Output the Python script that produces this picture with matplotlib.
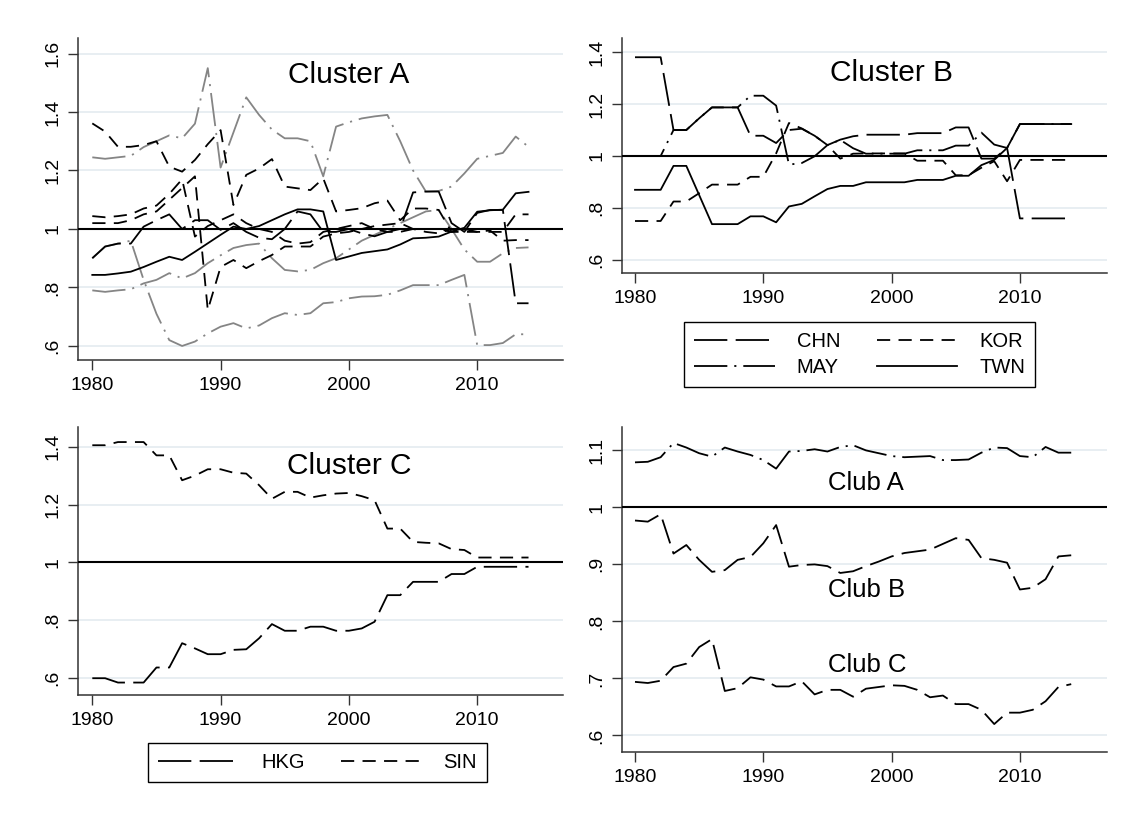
import matplotlib
matplotlib.use("Agg")
import matplotlib.pyplot as plt

plt.rcParams['font.family'] = ['Liberation Sans', 'DejaVu Sans']
plt.rcParams['lines.scale_dashes'] = False

years = list(range(1980, 2015))

# Cluster A (relative transition paths)
a_g1 = [1.245, 1.24, 1.245, 1.25, 1.28, 1.30, 1.32, 1.31, 1.36, 1.55, 1.21, 1.33, 1.45, 1.39, 1.34, 1.31, 1.31, 1.30,
        1.18, 1.35, 1.365, 1.378, 1.385, 1.39, 1.30, 1.20, 1.128, 1.13, 1.145, 1.19, 1.24, 1.25, 1.26, 1.316, 1.281]
a_g2 = [0.90, 0.94, 0.95, 0.96, 0.826, 0.71, 0.62, 0.60, 0.615, 0.643, 0.666, 0.678, 0.66, 0.67, 0.695, 0.712, 0.706,
        0.712, 0.746, 0.75, 0.763, 0.769, 0.77, 0.775, 0.79, 0.808, 0.808, 0.808, 0.826, 0.843, 0.603, 0.603, 0.61,
        0.64, 0.64]
a_g3 = [0.79, 0.785, 0.79, 0.794, 0.814, 0.826, 0.849, 0.831, 0.849, 0.883, 0.91, 0.935, 0.945, 0.95, 0.90, 0.86,
        0.855, 0.86, 0.883, 0.90, 0.93, 0.96, 0.98, 1.0, 1.02, 1.04, 1.06, 1.065, 1.0, 0.93, 0.888, 0.888, 0.917,
        0.935, 0.937]
a_sd1 = [1.361, 1.333, 1.281, 1.281, 1.287, 1.30, 1.213, 1.196, 1.236, 1.29, 1.338, 1.082, 1.185, 1.207, 1.239, 1.145,
         1.139, 1.133, 1.173, 1.06, 1.065, 1.071, 1.088, 1.097, 1.03, 1.07, 1.07, 1.065, 0.99, 0.99, 0.99, 0.99, 0.99,
         1.05, 1.05]
a_sd2 = [1.044, 1.04, 1.044, 1.05, 1.07, 1.08, 1.12, 1.17, 0.974, 1.01, 1.03, 1.05, 1.02, 1.0, 0.99, 0.96, 0.95, 0.955,
         0.99, 1.0, 1.01, 1.02, 1.0, 0.99, 0.99, 1.0, 1.0, 1.0, 0.99, 1.0, 0.99, 0.995, 0.96, 0.962, 0.962]
a_sd3 = [1.02, 1.02, 1.02, 1.03, 1.05, 1.06, 1.10, 1.14, 1.18, 0.723, 0.87, 0.894, 0.866, 0.89, 0.911, 0.94, 0.94, 0.94,
         0.974, 0.985, 0.99, 1.0, 1.01, 1.015, 1.02, 1.0, 0.99, 0.985, 1.0, 1.0, 1.0, 1.0, 1.0, 1.0, 1.0]
a_ld1 = [0.90, 0.94, 0.95, 0.95, 1.008, 1.03, 1.05, 1.0, 1.03, 1.03, 0.997, 1.02, 0.99, 0.97, 0.965, 1.0, 1.06, 1.05,
         0.99, 0.99, 1.0, 0.985, 0.975, 0.99, 1.0, 1.125, 1.128, 1.128, 1.02, 0.99, 1.055, 1.065, 1.065, 0.746, 0.746]
a_s1 = [0.843, 0.843, 0.848, 0.854, 0.87, 0.888, 0.905, 0.894, 0.922, 0.951, 0.98, 1.008, 1.0, 1.01, 1.03, 1.05, 1.067,
        1.067, 1.06, 0.894, 0.906, 0.918, 0.924, 0.93, 0.947, 0.968, 0.97, 0.974, 0.991, 1.004, 1.059, 1.064, 1.066,
        1.122, 1.127]

# Cluster B
chn = [1.38, 1.38, 1.38, 1.10, 1.10, 1.145, 1.187, 1.187, 1.187, 1.078, 1.078, 1.05, 1.10, 1.105, 1.078, 1.042,
       1.063, 1.076, 1.082, 1.082, 1.082, 1.082, 1.088, 1.088, 1.088, 1.11, 1.11, 0.99, 0.99, 1.031, 0.76, 0.76, 0.76,
       0.76, 0.76]
kor = [0.75, 0.75, 0.75, 0.825, 0.825, 0.857, 0.89, 0.89, 0.89, 0.92, 0.92, 1.01, 1.127, 1.106, 1.078, 1.042,
       0.99, 1.009, 1.01, 1.01, 1.01, 1.01, 0.982, 0.982, 0.982, 0.926, 0.926, 0.955, 0.98, 0.903, 0.985, 0.985, 0.985,
       0.985, 0.985]
may = [1.0, 1.0, 1.0, 1.10, 1.10, 1.145, 1.187, 1.187, 1.187, 1.232, 1.232, 1.194, 0.967, 0.973, 0.999, 1.042,
       1.062, 1.03, 1.009, 1.009, 1.009, 1.009, 1.022, 1.022, 1.022, 1.04, 1.04, 1.09, 1.044, 1.031, 1.123, 1.123,
       1.123, 1.123, 1.123]
twn = [0.87, 0.87, 0.87, 0.962, 0.962, 0.85, 0.738, 0.738, 0.738, 0.768, 0.768, 0.745, 0.806, 0.816, 0.845, 0.873,
       0.885, 0.885, 0.899, 0.899, 0.899, 0.899, 0.908, 0.908, 0.908, 0.924, 0.924, 0.965, 0.985, 1.031, 1.123, 1.123,
       1.123, 1.123, 1.123]

# Cluster C
sin = [1.405, 1.405, 1.416, 1.416, 1.416, 1.37, 1.37, 1.284, 1.30, 1.322, 1.322, 1.31, 1.307, 1.267, 1.22, 1.244,
       1.244, 1.224, 1.232, 1.238, 1.24, 1.229, 1.215, 1.117, 1.117, 1.071, 1.068, 1.066, 1.046, 1.043, 1.017, 1.017,
       1.017, 1.017, 1.017]
hkg = [0.60, 0.60, 0.585, 0.585, 0.585, 0.637, 0.637, 0.721, 0.703, 0.683, 0.683, 0.698, 0.70, 0.738, 0.787, 0.764,
       0.764, 0.778, 0.778, 0.764, 0.764, 0.772, 0.795, 0.887, 0.887, 0.933, 0.933, 0.933, 0.96, 0.96, 0.985, 0.985,
       0.985, 0.985, 0.985]

# Clubs
club_a = [1.079, 1.08, 1.088, 1.113, 1.105, 1.095, 1.089, 1.105, 1.098, 1.092, 1.083, 1.068, 1.098, 1.099, 1.102,
          1.098, 1.106, 1.109, 1.10, 1.095, 1.09, 1.088, 1.089, 1.09, 1.083, 1.083, 1.084, 1.096, 1.105, 1.104, 1.09,
          1.088, 1.106, 1.096, 1.096]
club_b = [0.977, 0.975, 0.988, 0.919, 0.934, 0.908, 0.887, 0.89, 0.908, 0.913, 0.937, 0.969, 0.896, 0.899, 0.90,
          0.897, 0.885, 0.888, 0.897, 0.905, 0.914, 0.92, 0.923, 0.926, 0.936, 0.946, 0.943, 0.911, 0.908, 0.903,
          0.856, 0.859, 0.874, 0.914, 0.916]
club_c = [0.694, 0.692, 0.696, 0.72, 0.726, 0.755, 0.769, 0.678, 0.683, 0.702, 0.698, 0.686, 0.686, 0.695, 0.672,
          0.68, 0.68, 0.668, 0.682, 0.685, 0.688, 0.687, 0.68, 0.667, 0.67, 0.655, 0.655, 0.645, 0.62, 0.64, 0.64,
          0.645, 0.66, 0.685, 0.69]

LONG = (0, (24, 6))
DASH = (0, (9.5, 6))
DASHDOT = (0, (24, 5, 1.5, 5))
GRAY = '#858585'
LW = 1.3

W, H = 1123, 817
fig = plt.figure(figsize=(W / 100, H / 100), dpi=100)
fig.patch.set_facecolor('white')


def make_ax(l, t, r, b, x0px, ylim, ticks, labels):
    ax = fig.add_axes([l / W, 1 - b / H, (r - l) / W, (b - t) / H])
    xmin = 1980 - (x0px - l) / 12.83
    ax.set_xlim(xmin, xmin + (r - l) / 12.83)
    ax.set_ylim(*ylim)
    ax.set_xticks([1980, 1990, 2000, 2010])
    ax.set_yticks(ticks)
    ax.set_yticklabels(labels, rotation=90, va='center')
    ax.tick_params(axis='both', labelsize=14, length=7, width=1.0, color='#333333', pad=5)
    for s in ['top', 'right']:
        ax.spines[s].set_visible(False)
    for s in ['left', 'bottom']:
        ax.spines[s].set_color('#333333')
        ax.spines[s].set_linewidth(1.1)
    ax.yaxis.grid(True, color='#e6edf1', lw=1.3)
    ax.set_axisbelow(True)
    ax.axhline(1, color='black', lw=1.5, zorder=3)
    return ax


# Cluster A
ax = make_ax(78, 38, 563, 360, 92.3, (0.552, 1.653), [0.6, 0.8, 1.0, 1.2, 1.4, 1.6],
             ['.6', '.8', '1', '1.2', '1.4', '1.6'])
ax.plot(years, a_g1, color=GRAY, ls=DASHDOT, lw=LW)
ax.plot(years, a_g2, color=GRAY, ls=DASHDOT, lw=LW)
ax.plot(years, a_g3, color=GRAY, ls=DASHDOT, lw=LW)
ax.plot(years, a_sd1, color='black', ls=DASH, lw=LW)
ax.plot(years, a_sd2, color='black', ls=DASH, lw=LW)
ax.plot(years, a_sd3, color='black', ls=DASH, lw=LW)
ax.plot(years, a_ld1, color='black', ls=LONG, lw=LW)
ax.plot(years, a_s1, color='black', ls='-', lw=LW)
ax.text(2000, 1.50, 'Cluster A', fontsize=21.5, ha='center', va='baseline')

# Cluster B
ax = make_ax(622, 38, 1107, 273, 635, (0.55, 1.454), [0.6, 0.8, 1.0, 1.2, 1.4],
             ['.6', '.8', '1', '1.2', '1.4'])
h1, = ax.plot(years, chn, color='black', ls=LONG, lw=LW)
h2, = ax.plot(years, kor, color='black', ls=DASH, lw=LW)
h3, = ax.plot(years, may, color='black', ls=DASHDOT, lw=LW)
h4, = ax.plot(years, twn, color='black', ls='-', lw=LW)
ax.text(2000, 1.287, 'Cluster B', fontsize=21.5, ha='center', va='baseline')
leg = ax.legend([h1, h3, h2, h4], ['CHN', 'MAY', 'KOR', 'TWN'], ncol=2, loc='upper left',
                bbox_to_anchor=(684 / W, 1 - 321.7 / H), bbox_transform=fig.transFigure,
                fontsize=14.5, handlelength=4, handletextpad=1.1, columnspacing=1.8,
                borderaxespad=0, borderpad=0.5, labelspacing=0.35,
                fancybox=False, edgecolor='black', framealpha=1)
leg.get_frame().set_linewidth(1.0)

# Cluster C
ax = make_ax(78, 427, 563, 695, 92.3, (0.542, 1.468), [0.6, 0.8, 1.0, 1.2, 1.4],
             ['.6', '.8', '1', '1.2', '1.4'])
h1, = ax.plot(years, hkg, color='black', ls=LONG, lw=LW)
h2, = ax.plot(years, sin, color='black', ls=DASH, lw=LW)
ax.text(2000, 1.3045, 'Cluster C', fontsize=21.5, ha='center', va='baseline')
leg = ax.legend([h1, h2], ['HKG', 'SIN'], ncol=2, loc='upper left',
                bbox_to_anchor=(148.3 / W, 1 - 743.3 / H), bbox_transform=fig.transFigure,
                fontsize=14.5, handlelength=4, handletextpad=1.1, columnspacing=1.8,
                borderaxespad=0, borderpad=0.5,
                fancybox=False, edgecolor='black', framealpha=1)
leg.get_frame().set_linewidth(1.0)

# Clubs
ax = make_ax(622, 427, 1107, 752, 635, (0.571, 1.141), [0.6, 0.7, 0.8, 0.9, 1.0, 1.1],
             ['.6', '.7', '.8', '.9', '1', '1.1'])
ax.plot(years, club_a, color='black', ls=DASHDOT, lw=LW)
ax.plot(years, club_b, color='black', ls=(0, (18, 6)), lw=LW)
ax.plot(years, club_c, color='black', ls=(0, (18, 6)), lw=LW)
ax.text(1995.07, 1.030, 'Club A', fontsize=18.5, ha='left', va='baseline')
ax.text(1995.07, 0.842, 'Club B', fontsize=18.5, ha='left', va='baseline')
ax.text(1995.07, 0.7116, 'Club C', fontsize=18.5, ha='left', va='baseline')

fig.savefig('out.png', dpi=100)
